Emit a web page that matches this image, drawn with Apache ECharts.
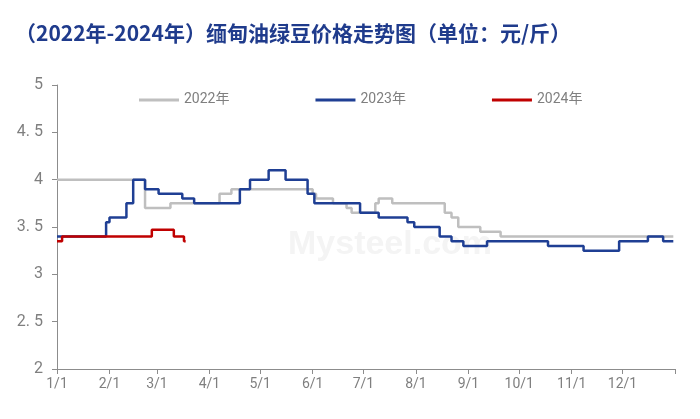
<!DOCTYPE html>
<html>
<head>
<meta charset="utf-8">
<script src="https://cdn.jsdelivr.net/npm/echarts@6/dist/echarts.min.js"></script>
<style>
html,body{margin:0;padding:0;background:#fff;}
#chart{width:700px;height:419px;}
</style>
</head>
<body>
<div id="chart"></div>
<script>
// ---- data ----
const titleText = '（2022年-2024年）缅甸油绿豆价格走势图（单位：元/斤）';
const seriesNames = ['2022年', '2023年', '2024年'];
const monthStarts = ['01-01','02-01','03-01','04-01','05-01','06-01','07-01','08-01','09-01','10-01','11-01','12-01'];
const tickLabels = ['1/1','2/1','3/1','4/1','5/1','6/1','7/1','8/1','9/1','10/1','11/1','12/1'];
const yTickLabels = ['2','2. 5','3','3. 5','4','4. 5','5'];

const dates2022 = ['01-01','02-22','03-09','04-07','04-14','06-01','06-03','06-13','06-21','06-24','07-08','07-10','07-18','08-18','08-22','08-26','09-08','09-20','12-31'];
const values2022 = [4.00, 3.70, 3.75, 3.85, 3.90, 3.85, 3.80, 3.75, 3.70, 3.65, 3.75, 3.80, 3.75, 3.65, 3.60, 3.50, 3.45, 3.40, 3.40];

const dates2023 = ['01-01','01-30','02-01','02-11','02-15','02-22','03-02','03-16','03-23','04-19','04-25','05-06','05-16','05-29','06-02','06-29','07-10','07-27','07-31','08-15','08-22','08-29','09-12','10-18','11-08','11-29','12-16','12-25','12-31'];
const values2023 = [3.40, 3.55, 3.60, 3.75, 4.00, 3.90, 3.85, 3.80, 3.75, 3.90, 4.00, 4.10, 4.00, 3.85, 3.75, 3.65, 3.60, 3.55, 3.50, 3.40, 3.35, 3.30, 3.35, 3.30, 3.25, 3.35, 3.40, 3.35, 3.35];

const dates2024 = ['01-01','01-04','02-26','03-11','03-17','03-18'];
const values2024 = [3.35, 3.40, 3.47, 3.40, 3.35, 3.35];

// ---- helpers ----
function dayOfYear(md) {
  const [m, d] = md.split('-').map(Number);
  return Math.round((Date.UTC(2023, m - 1, d) - Date.UTC(2023, 0, 1)) / 86400000);
}
function pairs(dates, values) {
  return dates.map((d, i) => [dayOfYear(d), values[i]]);
}
const monthDays = monthStarts.map(dayOfYear);
const yearEnd = 365;

const chart = echarts.init(document.getElementById('chart'), null, {renderer: 'canvas'});
const axisColor = '#8c8c8c';
const labelColor = '#7f7f7f';
const fontFamily = '"Noto Sans CJK SC", "Noto Sans", sans-serif';

chart.setOption({
  backgroundColor: '#ffffff',
  animation: false,
  title: {
    text: titleText,
    left: 10,
    top: 18,
    textStyle: {color: '#1f3b8c', fontSize: 21, fontWeight: 'bold', fontFamily: fontFamily}
  },
  legend: {
    data: seriesNames,
    left: 134,
    top: 88,
    itemWidth: 40,
    itemHeight: 3,
    itemGap: 86,
    icon: 'rect',
    textStyle: {color: '#7f7f7f', fontSize: 14, fontFamily: 'Roboto, "Noto Sans CJK SC", sans-serif'}
  },
  graphic: [{
    type: 'text',
    left: 288,
    top: 228,
    z: -1,
    style: {text: 'Mysteel.com', fill: '#f4f4f4', font: 'bold 34px Arial, sans-serif'}
  }],
  grid: {left: 57, right: 25, top: 85, bottom: 50, containLabel: false},
  xAxis: {
    type: 'value',
    min: 0,
    max: yearEnd,
    axisLine: {show: true, lineStyle: {color: axisColor, width: 1}},
    axisTick: {show: true, length: 5, lineStyle: {color: axisColor}, customValues: monthDays.concat([yearEnd])},
    axisLabel: {
      show: true,
      customValues: monthDays,
      color: labelColor,
      fontSize: 14,
      margin: 8,
      fontFamily: 'Roboto, sans-serif',
      formatter: function (v) {
        const i = monthDays.indexOf(Math.round(v));
        return i >= 0 ? tickLabels[i] : '';
      }
    },
    splitLine: {show: false}
  },
  yAxis: {
    type: 'value',
    min: 2,
    max: 5,
    interval: 0.5,
    axisLine: {show: true, lineStyle: {color: axisColor, width: 1}},
    axisTick: {show: true, length: 5, lineStyle: {color: axisColor}},
    axisLabel: {
      color: labelColor,
      fontSize: 16,
      margin: 14,
      fontFamily: 'Roboto, sans-serif',
      formatter: function (v) {
        const i = Math.round((v - 2) / 0.5);
        return yTickLabels[i] !== undefined ? yTickLabels[i] : '';
      }
    },
    splitLine: {show: false}
  },
  series: [
    {
      name: seriesNames[0], type: 'line', step: 'end', symbol: 'none',
      data: pairs(dates2022, values2022),
      lineStyle: {color: '#bfbfbf', width: 2.5}, itemStyle: {color: '#bfbfbf'}, z: 2
    },
    {
      name: seriesNames[1], type: 'line', step: 'end', symbol: 'none',
      data: pairs(dates2023, values2023),
      lineStyle: {color: '#1f3f94', width: 2.5}, itemStyle: {color: '#1f3f94'}, z: 3
    },
    {
      name: seriesNames[2], type: 'line', step: 'end', symbol: 'none',
      data: pairs(dates2024, values2024),
      lineStyle: {color: '#c00000', width: 2.5}, itemStyle: {color: '#c00000'}, z: 4
    }
  ]
});
</script>
</body>
</html>
